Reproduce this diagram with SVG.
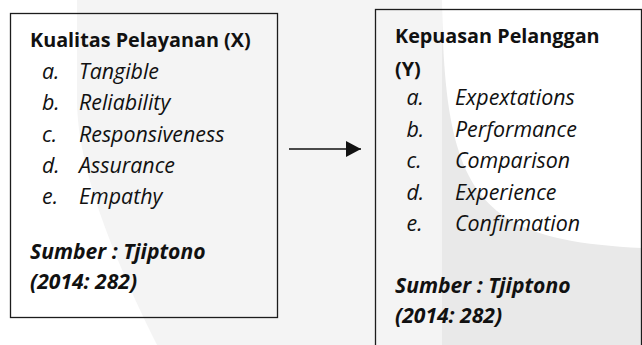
<svg xmlns="http://www.w3.org/2000/svg" width="642" height="345" viewBox="0 0 642 345">
  <defs>
    <style>
      .t { font-family: "Open Sans", "Liberation Sans", sans-serif; fill: #111; }
      .b { font-weight: bold; font-size: 19.8px; }
      .i { font-style: italic; font-size: 21.4px; }
      .bi { font-weight: bold; font-style: italic; font-size: 21.1px; }
      .box { fill: none; stroke: #1c1c1c; stroke-width: 1.3; }
      .conn { stroke: #111; stroke-width: 1.3; fill: none; }
    </style>
    <marker id="arrow" viewBox="0 0 15 16" refX="15" refY="8" markerWidth="15" markerHeight="16" markerUnits="userSpaceOnUse" orient="auto">
      <path d="M0,0 L15,8 L0,16 Z" fill="#111"/>
    </marker>
  </defs>

  <g id="background">
    <rect x="0" y="0" width="642" height="345" fill="#f4f4f4"/>
    <path d="M0,0 L77,0 L77,100 C77,170 117,265 157,345 L0,345 Z" fill="#ffffff"/>
    <rect x="442" y="0" width="200" height="345" fill="#e9e9e9"/>
    <path d="M442,0 C444,200 480,240 642,248 L642,0 Z" fill="#ffffff"/>
  </g>

  <g id="node-x">
    <rect class="box" x="10.5" y="13.5" width="267" height="304"/>
    <text class="t b" x="30" y="46.5">Kualitas Pelayanan (X)</text>
    <text class="t i" x="42" y="79">a.</text>
    <text class="t i" x="79" y="79">Tangible</text>
    <text class="t i" x="42" y="110.3">b.</text>
    <text class="t i" x="79" y="110.3">Reliability</text>
    <text class="t i" x="42" y="141.6">c.</text>
    <text class="t i" x="79" y="141.6">Responsiveness</text>
    <text class="t i" x="42" y="172.9">d.</text>
    <text class="t i" x="79" y="172.9">Assurance</text>
    <text class="t i" x="42" y="204.2">e.</text>
    <text class="t i" x="79" y="204.2">Empathy</text>
    <text class="t bi" x="30" y="259">Sumber : Tjiptono</text>
    <text class="t bi" x="30" y="288.5">(2014: 282)</text>
  </g>

  <g id="node-y">
    <rect class="box" x="375.5" y="9.5" width="266" height="400"/>
    <text class="t b" x="395" y="42.5">Kepuasan Pelanggan</text>
    <text class="t b" x="395" y="75.5">(Y)</text>
    <text class="t i" x="406.5" y="105">a.</text>
    <text class="t i" x="455" y="105">Expextations</text>
    <text class="t i" x="406.5" y="136.5">b.</text>
    <text class="t i" x="455" y="136.5">Performance</text>
    <text class="t i" x="406.5" y="168">c.</text>
    <text class="t i" x="455" y="168">Comparison</text>
    <text class="t i" x="406.5" y="199.5">d.</text>
    <text class="t i" x="455" y="199.5">Experience</text>
    <text class="t i" x="406.5" y="231">e.</text>
    <text class="t i" x="455" y="231">Confirmation</text>
    <text class="t bi" x="395" y="293">Sumber : Tjiptono</text>
    <text class="t bi" x="395" y="323">(2014: 282)</text>
  </g>

  <g id="connectors">
    <line class="conn" x1="289" y1="149" x2="361" y2="149" marker-end="url(#arrow)"/>
  </g>
</svg>
